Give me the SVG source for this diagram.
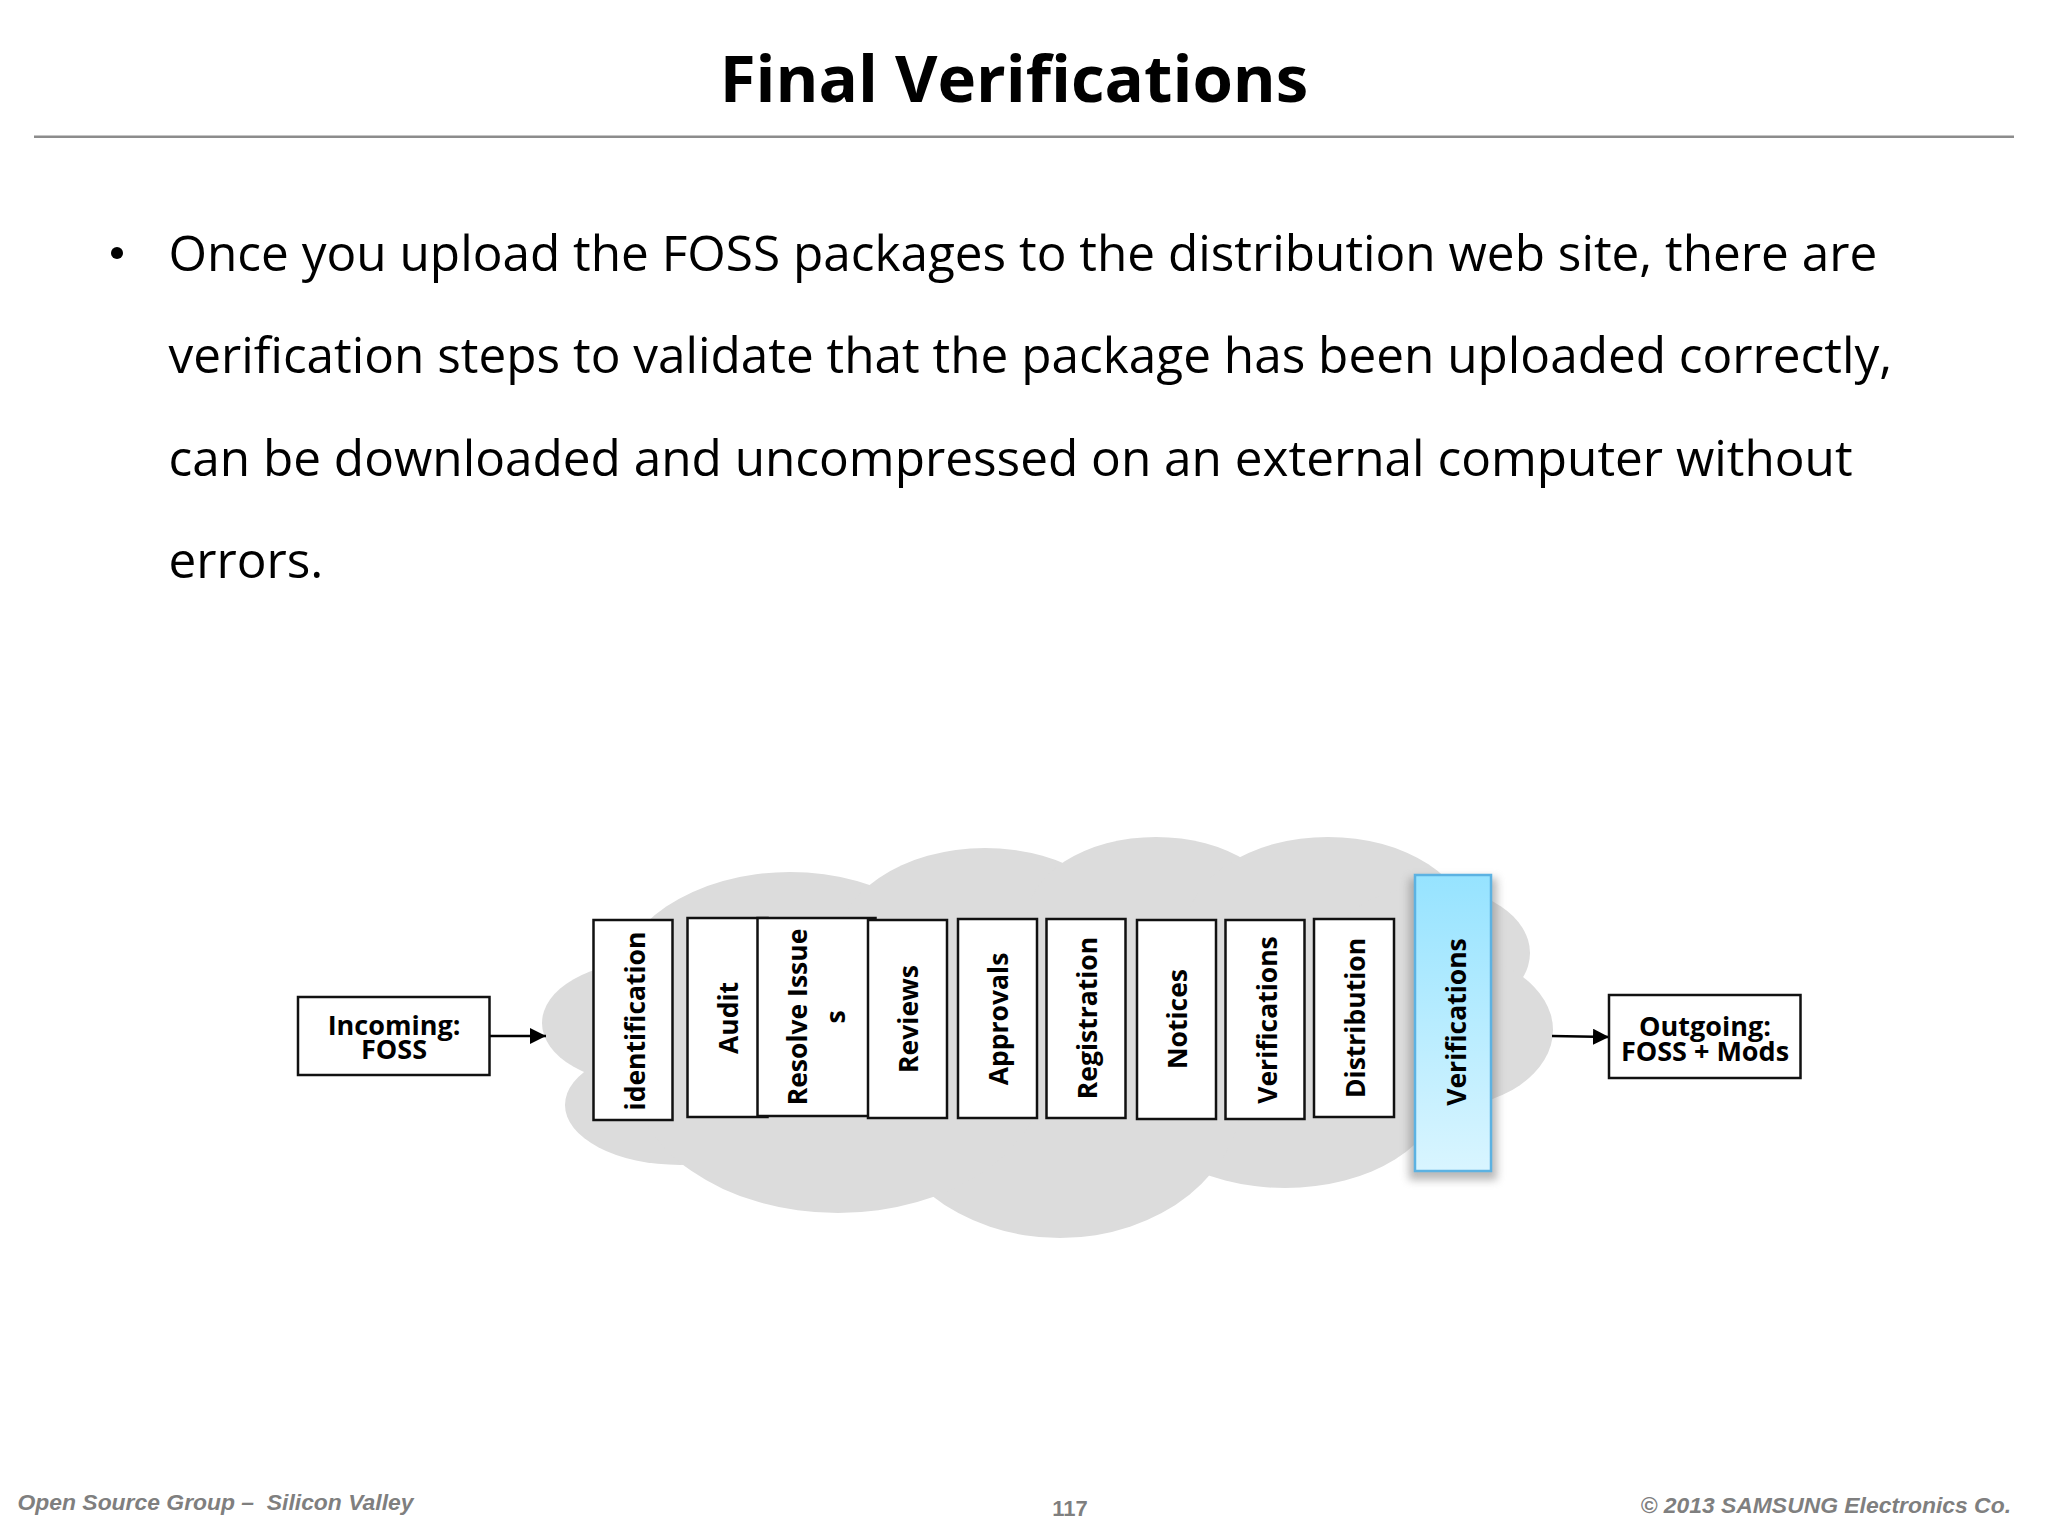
<svg xmlns="http://www.w3.org/2000/svg" width="2048" height="1536" viewBox="0 0 2048 1536">
<style>
.t{font-family:"Open Sans","Noto Sans",sans-serif;fill:#000}
.title{font-size:65.400px;font-weight:700;text-anchor:middle}
.body{font-size:49.500px}
.lbl{font-size:26.500px;font-weight:700;text-anchor:middle}
.io{font-size:27px;font-weight:700;text-anchor:middle}
.foot{font-family:"Liberation Sans",Arial,sans-serif;font-weight:700;font-style:italic;fill:#7f7f7f;font-size:22.900px}
.box{fill:#fff;stroke:#111;stroke-width:2.5}
.cloud{fill:#dcdcdc}
.conn{stroke:#000;stroke-width:2.5;fill:none;marker-end:url(#arrow)}
</style>
<defs>
<marker id="arrow" markerUnits="userSpaceOnUse" markerWidth="18" markerHeight="18" refX="16" refY="8" orient="auto"><path d="M0 0L16 8L0 16Z" fill="#000"/></marker>
<linearGradient id="blue" x1="0" y1="0" x2="0" y2="1"><stop offset="0" stop-color="#96e3ff"/><stop offset="1" stop-color="#d9f5ff"/></linearGradient>
<filter id="soft" x="-20%" y="-10%" width="140%" height="120%"><feGaussianBlur stdDeviation="4"/></filter>
</defs>
<rect width="2048" height="1536" fill="#fff"/>
<text class="t title" x="1014" y="101.500">Final Verifications</text>
<rect x="34" y="135.500" width="1980" height="2.5" fill="#8c8c8c"/>
<g id="body">
<circle cx="117" cy="253" r="6" fill="#000"/>
<text class="t body" x="168.500" y="271">Once you upload the FOSS packages to the distribution web site, there are</text>
<text class="t body" x="168.500" y="373">verification steps to validate that the package has been uploaded correctly,</text>
<text class="t body" x="168.500" y="476">can be downloaded and uncompressed on an external computer without</text>
<text class="t body" x="168.500" y="578">errors.</text>
</g>
<g id="cloud" class="cloud">
<ellipse cx="650" cy="1023" rx="108" ry="62"/>
<ellipse cx="680" cy="1105" rx="115" ry="60"/>
<ellipse cx="790" cy="990" rx="175" ry="118"/>
<ellipse cx="985" cy="950" rx="150" ry="102"/>
<ellipse cx="1156" cy="920" rx="129" ry="83"/>
<ellipse cx="1328" cy="930" rx="142" ry="93"/>
<ellipse cx="1430" cy="953" rx="100" ry="66"/>
<ellipse cx="1440" cy="1030" rx="113" ry="78"/>
<ellipse cx="1285" cy="1090" rx="156" ry="98"/>
<ellipse cx="1060" cy="1090" rx="183" ry="148"/>
<ellipse cx="838" cy="1070" rx="207" ry="143"/>
<rect x="640" y="950" width="810" height="160"/>
</g>
<g id="connectors">
<path class="conn" d="M490 1036H546"/>
<path class="conn" d="M1552 1036L1609 1037"/>
</g>
<g id="incoming"><rect class="box" x="298" y="997" width="191.500" height="78"/><text class="t io" x="394" y="1035">Incoming:</text><text class="t io" x="394" y="1059">FOSS</text></g>
<g id="outgoing"><rect class="box" x="1609" y="995" width="191.500" height="83"/><text class="t io" x="1705" y="1036">Outgoing:</text><text class="t io" x="1705" y="1061">FOSS + Mods</text></g>
<g id="identification"><rect class="box" x="593.500" y="920" width="79" height="200"/><text class="t lbl" transform="translate(644.500 1021) rotate(-90)">identification</text></g>
<g id="audit"><rect class="box" x="687.500" y="918" width="80" height="199"/><text class="t lbl" transform="translate(738 1018) rotate(-90)">Audit</text></g>
<g id="resolve"><rect class="box" x="757.500" y="918" width="118" height="198"/><text class="t lbl" transform="translate(807 1017) rotate(-90)">Resolve Issue</text><text class="t lbl" transform="translate(845 1017) rotate(-90)">s</text></g>
<g id="reviews"><rect class="box" x="868" y="920" width="79" height="198"/><text class="t lbl" transform="translate(918 1019) rotate(-90)">Reviews</text></g>
<g id="approvals"><rect class="box" x="958" y="919" width="79" height="199"/><text class="t lbl" transform="translate(1007.500 1019) rotate(-90)">Approvals</text></g>
<g id="registration"><rect class="box" x="1046.500" y="919" width="79" height="199"/><text class="t lbl" transform="translate(1097 1018) rotate(-90)">Registration</text></g>
<g id="notices"><rect class="box" x="1137" y="920" width="79" height="199"/><text class="t lbl" transform="translate(1187 1019) rotate(-90)">Notices</text></g>
<g id="verifications1"><rect class="box" x="1225.500" y="920" width="79" height="199"/><text class="t lbl" transform="translate(1276.500 1020) rotate(-90)">Verifications</text></g>
<g id="distribution"><rect class="box" x="1314" y="919" width="80" height="198"/><text class="t lbl" transform="translate(1364.500 1018) rotate(-90)">Distribution</text></g>
<g id="verifications2">
<rect x="1409" y="878" width="88" height="302" fill="#8a8a8a" opacity="0.6" filter="url(#soft)"/>
<rect x="1415" y="875" width="76" height="296" fill="url(#blue)" stroke="#5cb2e2" stroke-width="2.5"/>
<text class="t lbl" transform="translate(1465.500 1022) rotate(-90)">Verifications</text></g>
<g id="footer">
<text class="foot" x="17.500" y="1510" xml:space="preserve">Open Source Group –  Silicon Valley</text>
<text class="foot" style="font-style:normal;font-size:22px" x="1070" y="1516" text-anchor="middle">117</text>
<text class="foot" x="2011" y="1513" text-anchor="end">© 2013 SAMSUNG Electronics Co.</text>
</g>
</svg>
